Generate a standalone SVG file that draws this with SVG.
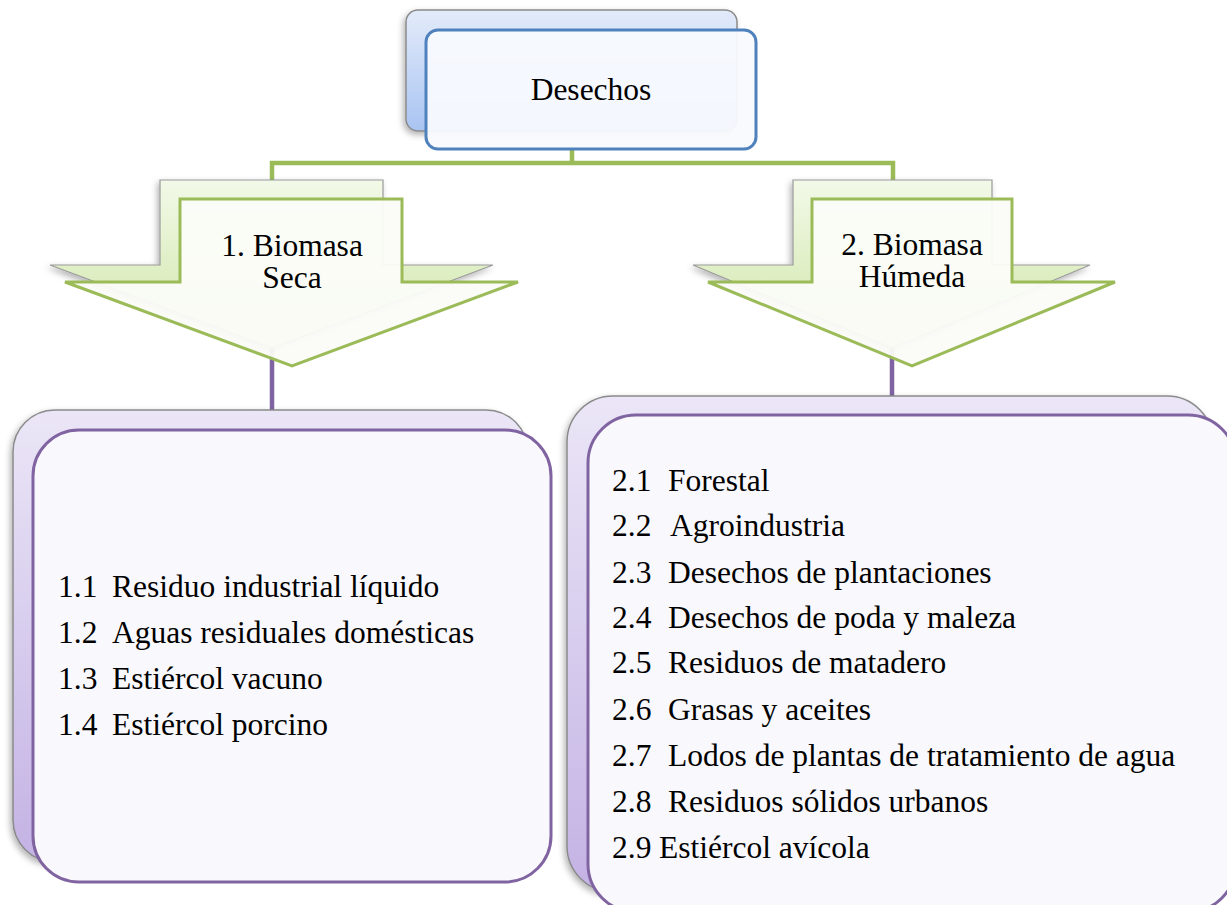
<svg xmlns="http://www.w3.org/2000/svg" width="1227" height="905" viewBox="0 0 1227 905">
<defs>
<linearGradient id="gBlue" x1="0" y1="0" x2="0" y2="1">
<stop offset="0" stop-color="#e3ebfa"/><stop offset="1" stop-color="#a9c4f2"/>
</linearGradient>
<linearGradient id="gGreen" x1="0" y1="0" x2="0" y2="1">
<stop offset="0" stop-color="#f2f9e8"/><stop offset="1" stop-color="#cfe6a6"/>
</linearGradient>
<linearGradient id="gPurple" x1="0" y1="0" x2="0" y2="1">
<stop offset="0" stop-color="#ebe6f7"/><stop offset="1" stop-color="#c3b2e4"/>
</linearGradient>
<filter id="sh" x="-10%" y="-10%" width="130%" height="130%">
<feDropShadow dx="-2" dy="3" stdDeviation="3" flood-color="#000" flood-opacity="0.3"/>
</filter>
</defs>
<style>
.t{font-family:"Liberation Serif","Times New Roman",serif;font-size:31.5px;fill:#000}
.c{text-anchor:middle}
.backB{fill:url(#gBlue);stroke:#8a8a8a;stroke-width:1.5}
.frontB{fill:#f8fafe;fill-opacity:0.95;stroke:#4f81bd;stroke-width:3}
.backG{fill:url(#gGreen);stroke:#9a9a9a;stroke-width:1.2}
.frontG{fill:#fbfcf8;fill-opacity:0.95;stroke:#9bbb59;stroke-width:3}
.backP{fill:url(#gPurple);stroke:#8a8a8a;stroke-width:1.5}
.frontP{fill:#f9f8fc;stroke:#8064a2;stroke-width:3}
.lg{stroke:#9bbb59;stroke-width:4.5;fill:none}
.lp{stroke:#8064a2;stroke-width:4.5;fill:none}
</style>
<rect width="1227" height="905" fill="#ffffff"/>
<g id="connectors">
<path class="lg" d="M572 149V163M270 163H895M272 161V182M893 161V182"/>
<path class="lp" d="M272 345V412M892 345V399"/>
</g>
<g id="node-desechos">
<rect class="backB" x="406" y="10" width="331" height="121" rx="12" filter="url(#sh)"/>
<rect class="frontB" x="426" y="30" width="330" height="119" rx="12"/>
<text class="t c" x="591" y="100">Desechos</text>
</g>
<g id="node-biomasa-seca">
<path class="backG" d="M160 180H383V265H493L272 348L50 265H160Z" filter="url(#sh)"/>
<path class="frontG" d="M180 199H402V282H518L292 366L65 282H180Z"/>
<text class="t c" x="292" y="256">1. Biomasa</text>
<text class="t c" x="292" y="288">Seca</text>
</g>
<g id="node-biomasa-humeda">
<path class="backG" d="M793 180H992V265H1090L892 348L693 265H793Z" filter="url(#sh)"/>
<path class="frontG" d="M812 199H1012V282H1115L912 366L708 282H812Z"/>
<text class="t c" x="912" y="255">2. Biomasa</text>
<text class="t c" x="912" y="287">Húmeda</text>
</g>
<g id="node-lista-seca">
<rect class="backP" x="13" y="410" width="515" height="452" rx="42" filter="url(#sh)"/>
<rect class="frontP" x="33" y="430" width="518" height="452" rx="46"/>
<text class="t" x="58" y="597">1.1<tspan x="112">Residuo industrial líquido</tspan></text>
<text class="t" x="58" y="643">1.2<tspan x="112">Aguas residuales domésticas</tspan></text>
<text class="t" x="58" y="689">1.3<tspan x="112">Estiércol vacuno</tspan></text>
<text class="t" x="58" y="735">1.4<tspan x="112">Estiércol porcino</tspan></text>
</g>
<g id="node-lista-humeda">
<rect class="backP" x="567" y="396" width="646" height="496" rx="46" filter="url(#sh)"/>
<rect class="frontP" x="588" y="415" width="648" height="497" rx="48"/>
<text class="t" x="612" y="491">2.1<tspan x="668">Forestal</tspan></text>
<text class="t" x="612" y="536">2.2<tspan x="670">Agroindustria</tspan></text>
<text class="t" x="612" y="583">2.3<tspan x="668">Desechos de plantaciones</tspan></text>
<text class="t" x="612" y="628">2.4<tspan x="668">Desechos de poda y maleza</tspan></text>
<text class="t" x="612" y="673">2.5<tspan x="668">Residuos de matadero</tspan></text>
<text class="t" x="612" y="720">2.6<tspan x="668">Grasas y aceites</tspan></text>
<text class="t" x="612" y="766">2.7<tspan x="668">Lodos de plantas de tratamiento de agua</tspan></text>
<text class="t" x="612" y="812">2.8<tspan x="668">Residuos sólidos urbanos</tspan></text>
<text class="t" x="612" y="858">2.9<tspan x="659">Estiércol avícola</tspan></text>
</g>
</svg>
